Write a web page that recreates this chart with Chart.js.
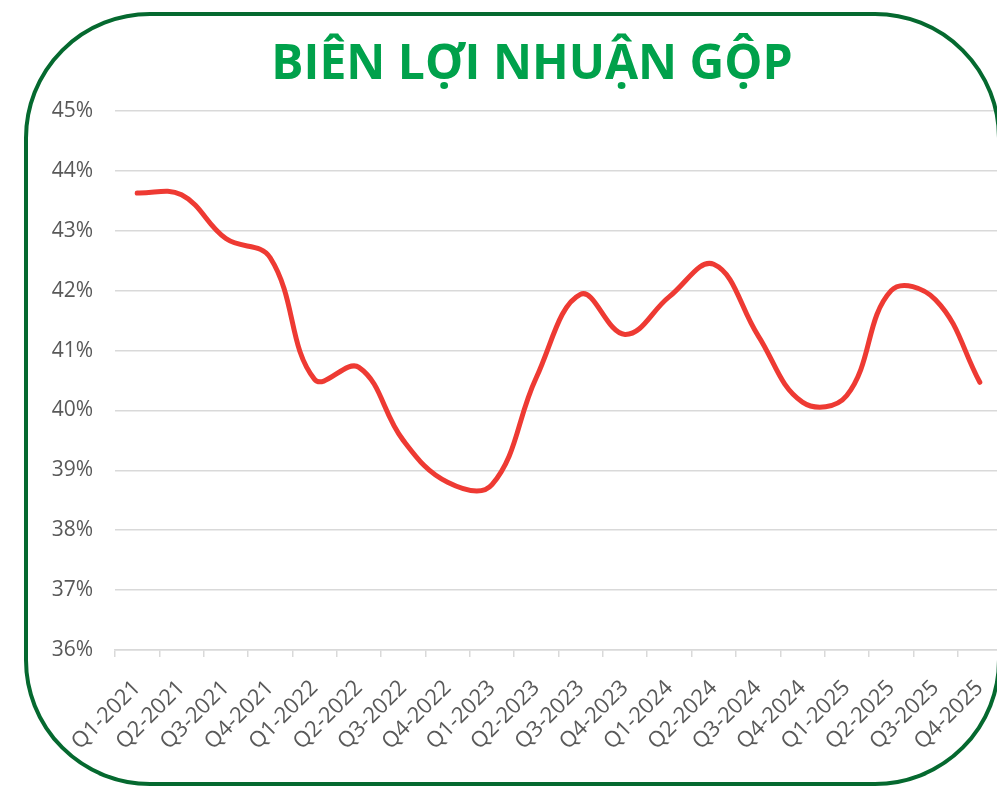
<!DOCTYPE html>
<html>
<head>
<meta charset="utf-8">
<script src="https://cdn.jsdelivr.net/npm/chart.js@4.4.1/dist/chart.umd.min.js"></script>
<style>
  html, body { margin: 0; padding: 0; background: #fff; width: 997px; height: 786px; overflow: hidden; }
  #wrap { position: absolute; left: 0; top: 0; width: 1003px; height: 786px; }
  #frame {
    position: absolute; left: 24px; top: 12px; width: 977px; height: 774px;
    box-sizing: border-box; border: 4px solid #05692F; border-radius: 126px;
    pointer-events: none;
  }
  #title {
    position: absolute; left: 0; top: 37px; width: 1064px; text-align: center;
    font: 700 48px 'Open Sans', sans-serif; line-height: 1; color: #00A14B;
  }
</style>
</head>
<body>
<div id="wrap"><canvas id="chart" width="1003" height="786"></canvas></div>
<div id="title">BIÊN LỢI NHUẬN GỘP</div>
<div id="frame"></div>
<script>
// Gross margin by quarter (%)
const quarters = [
  'Q1-2021', 'Q2-2021', 'Q3-2021', 'Q4-2021',
  'Q1-2022', 'Q2-2022', 'Q3-2022', 'Q4-2022',
  'Q1-2023', 'Q2-2023', 'Q3-2023', 'Q4-2023',
  'Q1-2024', 'Q2-2024', 'Q3-2024', 'Q4-2024',
  'Q1-2025', 'Q2-2025', 'Q3-2025', 'Q4-2025',
];
const grossMargin = [
  43.63, 43.60, 42.87, 42.55,
  40.52, 40.72, 39.50, 38.80,
  38.76, 40.55, 41.94, 41.27,
  41.90, 42.44, 41.25, 40.14,
  40.25, 42.00, 41.85, 40.47,
];
const yMin = 36, yMax = 45, yStep = 1;

const GRID = '#D9D9D9';
const TEXT = '#595959';
const FONT = { family: "'Open Sans', sans-serif", size: 21 };

new Chart(document.getElementById('chart'), {
  type: 'line',
  data: {
    labels: quarters,
    datasets: [{
      data: grossMargin,
      borderColor: '#EE3A33',
      borderWidth: 5,
      tension: 0.4,
      pointRadius: 0,
      borderCapStyle: 'round',
      borderJoinStyle: 'round',
      fill: false,
    }],
  },
  options: {
    responsive: false,
    animation: false,
    layout: { padding: { top: 111, left: 0, right: 1, bottom: 0 } },
    plugins: { legend: { display: false }, tooltip: { enabled: false } },
    scales: {
      x: {
        offset: true,
        // fixed axis height, and no extra side padding for the rotated labels
        afterFit: s => { s.height = 136; s.paddingLeft = 0; s.paddingRight = 0; },
        grid: { drawOnChartArea: false, offset: true, tickLength: 7, color: GRID, lineWidth: 1.5 },
        border: { display: true, color: GRID, width: 1.5 },
        ticks: { color: TEXT, font: { ...FONT, size: 22 }, minRotation: 45, maxRotation: 45, autoSkip: false, padding: 18 },
      },
      y: {
        min: yMin, max: yMax,
        afterFit: s => { s.width = 115; },
        grid: { color: GRID, lineWidth: 1.5, drawTicks: false },
        border: { display: false },
        ticks: { stepSize: yStep, color: TEXT, font: FONT, padding: 22, callback: v => v + '%' },
      },
    },
  },
});
</script>
</body>
</html>
